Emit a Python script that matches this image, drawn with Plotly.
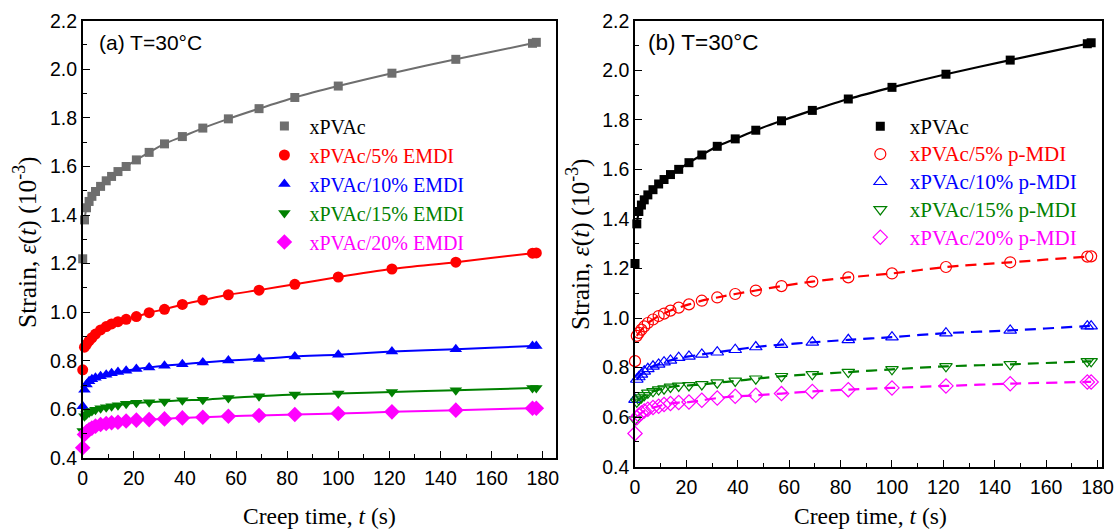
import plotly.graph_objects as go

# Creep time (s), shared sampling schedule of both test series
time_s = [0, 0.7, 1.5, 2.5, 3.6, 5.0, 7.0, 9.2, 11.3, 13.8, 17.0, 21.0, 26.0,
          32.0, 39.0, 47.0, 57.0, 69.0, 83.0, 100.0, 121.0, 146.0, 176.0, 177.5]

# Strain (10^-3) of the neat resin, 30 °C
xpvac = [1.22, 1.38, 1.43, 1.456, 1.477, 1.497, 1.518, 1.541, 1.559, 1.579, 1.600, 1.627,
         1.658, 1.693, 1.723, 1.758, 1.796, 1.838, 1.884, 1.931, 1.984, 2.041, 2.107, 2.111]

# (a) EMDI-modified resin
emdi_5 = [0.763, 0.856, 0.868, 0.882, 0.895, 0.910, 0.927, 0.941, 0.952, 0.961, 0.971, 0.982,
          0.998, 1.012, 1.032, 1.050, 1.072, 1.091, 1.115, 1.145, 1.178, 1.206, 1.243, 1.244]
emdi_10 = [0.613, 0.681, 0.703, 0.716, 0.724, 0.730, 0.737, 0.743, 0.749, 0.754, 0.759, 0.766,
           0.773, 0.780, 0.786, 0.793, 0.801, 0.808, 0.818, 0.825, 0.838, 0.848, 0.861, 0.861]
emdi_15 = [0.511, 0.572, 0.580, 0.587, 0.593, 0.599, 0.605, 0.609, 0.613, 0.617, 0.623, 0.627,
           0.629, 0.633, 0.638, 0.640, 0.647, 0.654, 0.661, 0.665, 0.672, 0.679, 0.688, 0.688]
emdi_20 = [0.442, 0.497, 0.508, 0.516, 0.523, 0.531, 0.538, 0.542, 0.545, 0.547, 0.552, 0.556,
           0.558, 0.561, 0.565, 0.568, 0.572, 0.575, 0.579, 0.583, 0.590, 0.597, 0.605, 0.605]

# (b) p-MDI-modified resin
pmdi_5 = [0.826, 0.928, 0.940, 0.953, 0.966, 0.980, 0.994, 1.008, 1.018, 1.030, 1.042, 1.055,
          1.070, 1.083, 1.097, 1.111, 1.129, 1.147, 1.164, 1.180, 1.206, 1.225, 1.248, 1.249]
pmdi_10 = [0.671, 0.752, 0.762, 0.773, 0.785, 0.795, 0.805, 0.813, 0.822, 0.829, 0.840, 0.845,
           0.853, 0.862, 0.872, 0.883, 0.893, 0.902, 0.912, 0.923, 0.939, 0.950, 0.967, 0.967]
pmdi_15 = [0.590, 0.662, 0.671, 0.679, 0.688, 0.698, 0.704, 0.711, 0.715, 0.722, 0.726, 0.728,
           0.732, 0.739, 0.746, 0.755, 0.765, 0.773, 0.782, 0.793, 0.805, 0.813, 0.825, 0.825]
pmdi_20 = [0.534, 0.598, 0.608, 0.617, 0.625, 0.632, 0.639, 0.644, 0.651, 0.655, 0.659, 0.661,
           0.668, 0.677, 0.684, 0.688, 0.695, 0.704, 0.711, 0.718, 0.726, 0.735, 0.742, 0.742]

labels_a = ["xPVAc", "xPVAc/5% EMDI", "xPVAc/10% EMDI", "xPVAc/15% EMDI", "xPVAc/20% EMDI"]
labels_b = ["xPVAc", "xPVAc/5% p-MDI", "xPVAc/10% p-MDI", "xPVAc/15% p-MDI", "xPVAc/20% p-MDI"]

colors_a = ["#6e6e6e", "#ff0000", "#0000ff", "#008000", "#ff00ff"]
colors_b = ["#000000", "#ff0000", "#0000ff", "#008000", "#ff00ff"]
symbols_a = ["square", "circle", "triangle-up", "triangle-down", "diamond"]
symbols_b = ["square", "circle-open", "triangle-up-open", "triangle-down-open", "diamond-open"]
sizes_a = [9, 11, 11, 11, 12]
sizes_b = [9, 11, 11, 11, 11]

series_a = [xpvac, emdi_5, emdi_10, emdi_15, emdi_20]
series_b = [xpvac, pmdi_5, pmdi_10, pmdi_15, pmdi_20]

SERIF = "Liberation Serif"
SANS = "Liberation Sans"
W, H = 1114, 530

fig = go.Figure()


def add_panel(series, labels, colors, symbols, sizes, xa, ya, legend, dashed, text_px, lead):
    for i, (vals, col) in enumerate(zip(series, colors)):
        # fitted creep curve, drawn from the first loaded point onward
        dash = "solid" if (i == 0 or not dashed) else "11px,7px"
        fig.add_trace(go.Scatter(
            x=time_s[1:], y=vals[1:], mode="lines", xaxis=xa, yaxis=ya,
            line=dict(color=col, width=2.2 if dashed else 2, dash=dash,
                      shape="spline", smoothing=0.8),
            showlegend=False, hoverinfo="skip"))
    for i, (vals, lab, col, sym, sz) in enumerate(zip(series, labels, colors, symbols, sizes)):
        name = f'<span style="font-size:{text_px}px;color:{col if i else "#000000"}">{lead}{lab}</span>'
        fig.add_trace(go.Scatter(
            x=time_s, y=vals, mode="markers", xaxis=xa, yaxis=ya, name=name,
            legend=legend, legendgroup=f"{legend}-{i}", cliponaxis=False,
            marker=dict(symbol=sym, size=sz, color=col,
                        line=dict(width=1.2 if "open" in sym else 0, color=col))))


add_panel(series_a, labels_a, colors_a, symbols_a, sizes_a, "x", "y", "legend", False,
          20, "\u00a0")
add_panel(series_b, labels_b, colors_b, symbols_b, sizes_b, "x2", "y2", "legend2", True,
          21, "\u00a0\u2009")

minor_common = dict(ticks="inside", ticklen=4, tickwidth=1.2, tickcolor="black")
axis_common = dict(
    showline=True, linewidth=1.6, linecolor="black", mirror=True,
    ticks="inside", ticklen=7, tickwidth=1.3, tickcolor="black",
    showgrid=False, zeroline=False, automargin=False, ticklabeloverflow="allow",
    tickfont=dict(family=SANS, size=19.5, color="black"),
)

fig.update_layout(
    width=W, height=H,
    margin=dict(l=0, r=0, t=0, b=0, pad=0, autoexpand=False),
    paper_bgcolor="white", plot_bgcolor="white",
    xaxis=dict(domain=[82.7 / W, 556 / W], range=[0, 185.2], dtick=20, anchor="y",
               ticklabelstandoff=2, minor=dict(dtick=10, **minor_common), **axis_common),
    yaxis=dict(domain=[1 - 458 / H, 1 - 20.7 / H], range=[0.4, 2.2], dtick=0.2,
               tickformat=".1f", anchor="x",
               minor=dict(dtick=0.1, **minor_common), **axis_common),
    xaxis2=dict(domain=[635 / W, 1101.7 / W], range=[0, 181.6], dtick=20, anchor="y2",
                ticklabelstandoff=2, minor=dict(dtick=10, **minor_common), **axis_common),
    yaxis2=dict(domain=[1 - 466.7 / H, 1 - 20.7 / H], range=[0.4, 2.2], dtick=0.2,
                tickformat=".1f", anchor="x2",
                minor=dict(dtick=0.1, **minor_common), **axis_common),
    legend=dict(x=(283.4 - 19) / W, y=1 - 106.5 / H, xanchor="left", yanchor="top",
                bgcolor="rgba(0,0,0,0)", borderwidth=0, tracegroupgap=0,
                font=dict(family=SERIF, size=20, color="black")),
    legend2=dict(x=(879.3 - 19) / W, y=1 - 107.5 / H, xanchor="left", yanchor="top",
                 bgcolor="rgba(0,0,0,0)", borderwidth=0, tracegroupgap=0,
                 font=dict(family=SERIF, size=19, color="black")),
    showlegend=True,
)

ytitle = "Strain, <i>ε</i>(<i>t</i>) (10<sup>-3</sup>)"
xtitle = "Creep time, <i>t</i> (s)"
annotations = [
    dict(text="(a) T=30°C", x=97 / W, y=1 - 43 / H, xanchor="left", yanchor="middle",
         font=dict(family=SANS, size=21, color="black")),
    dict(text="(b) T=30°C", x=646 / W, y=1 - 43 / H, xanchor="left", yanchor="middle",
         font=dict(family=SANS, size=22.5, color="black")),
    dict(text=ytitle, x=25 / W, y=1 - 242 / H, textangle=-90, xanchor="center",
         yanchor="middle", font=dict(family=SERIF, size=25.5, color="black")),
    dict(text=ytitle, x=578 / W, y=1 - 244 / H, textangle=-90, xanchor="center",
         yanchor="middle", font=dict(family=SERIF, size=25.5, color="black")),
    dict(text=xtitle, x=319 / W, y=1 - 516 / H, xanchor="center", yanchor="middle",
         font=dict(family=SERIF, size=23.5, color="black")),
    dict(text=xtitle, x=870 / W, y=1 - 516 / H, xanchor="center", yanchor="middle",
         font=dict(family=SERIF, size=23.5, color="black")),
]
for a in annotations:
    a.update(xref="paper", yref="paper", showarrow=False)
fig.update_layout(annotations=annotations)

fig.write_html(
    "out.html",
    post_script="document.body.style.margin='0';document.body.style.overflow='hidden';",
)
